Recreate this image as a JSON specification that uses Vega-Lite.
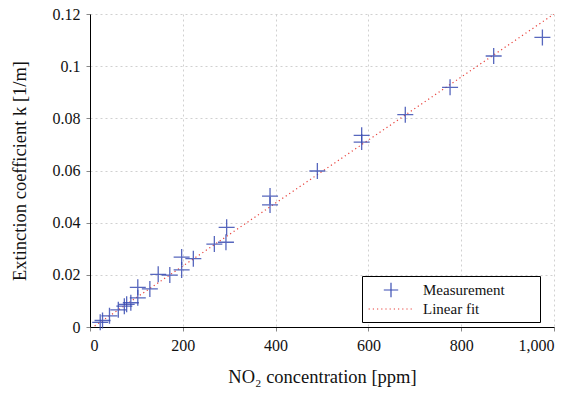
{
  "$schema": "https://vega.github.io/schema/vega-lite/v6.json",
  "width": 464,
  "height": 313,
  "autosize": {"type": "none"},
  "padding": {"left": 90, "top": 14, "right": 27, "bottom": 67},
  "background": "white",
  "config": {
    "view": {"stroke": null},
    "font": "Liberation Serif",
    "axis": {
      "labelFont": "Liberation Serif",
      "titleFont": "Liberation Serif",
      "labelFontSize": 16,
      "titleFontSize": 18.5,
      "labelColor": "#111",
      "titleColor": "#111",
      "titleFontWeight": "normal",
      "domainColor": "#000",
      "domainWidth": 1,
      "tickColor": "#888",
      "tickSize": 4,
      "gridColor": "#d0d0d0",
      "gridDash": [2, 3],
      "gridWidth": 1
    }
  },
  "datasets": {
    "meas": [
      {"c": 22, "k": 0.0018, "series": "Measurement"},
      {"c": 27, "k": 0.0025, "series": "Measurement"},
      {"c": 42, "k": 0.0043, "series": "Measurement"},
      {"c": 61, "k": 0.0066, "series": "Measurement"},
      {"c": 74, "k": 0.0080, "series": "Measurement"},
      {"c": 79, "k": 0.0087, "series": "Measurement"},
      {"c": 88, "k": 0.0093, "series": "Measurement"},
      {"c": 103, "k": 0.0112, "series": "Measurement"},
      {"c": 103, "k": 0.0152, "series": "Measurement"},
      {"c": 129, "k": 0.0146, "series": "Measurement"},
      {"c": 147, "k": 0.0202, "series": "Measurement"},
      {"c": 172, "k": 0.0199, "series": "Measurement"},
      {"c": 197.5, "k": 0.0268, "series": "Measurement"},
      {"c": 197.5, "k": 0.0219, "series": "Measurement"},
      {"c": 222.7, "k": 0.0262, "series": "Measurement"},
      {"c": 268, "k": 0.0318, "series": "Measurement"},
      {"c": 293, "k": 0.0325, "series": "Measurement"},
      {"c": 294.5, "k": 0.0382, "series": "Measurement"},
      {"c": 388, "k": 0.0502, "series": "Measurement"},
      {"c": 388, "k": 0.0468, "series": "Measurement"},
      {"c": 490, "k": 0.0598, "series": "Measurement"},
      {"c": 585.5, "k": 0.0735, "series": "Measurement"},
      {"c": 585.5, "k": 0.0709, "series": "Measurement"},
      {"c": 679.5, "k": 0.0814, "series": "Measurement"},
      {"c": 776, "k": 0.0919, "series": "Measurement"},
      {"c": 870, "k": 0.1039, "series": "Measurement"},
      {"c": 975, "k": 0.1110, "series": "Measurement"}
    ],
    "fit": [
      {"c": 10, "k": 0.0004, "series": "Linear fit"},
      {"c": 1000, "k": 0.1200, "series": "Linear fit"}
    ]
  },
  "encoding": {
    "x": {"type": "quantitative",
      "scale": {"domain": [0, 1000], "nice": false},
      "axis": {"values": [0, 200, 400, 600, 800, 1000], "format": ",d", "title": "NO₂ concentration [ppm]", "labelPadding": 6, "titlePadding": 14}},
    "y": {"type": "quantitative",
      "scale": {"domain": [0, 0.12], "nice": false},
      "axis": {"values": [0, 0.02, 0.04, 0.06, 0.08, 0.1, 0.12], "format": ".2~f", "title": "Extinction coefficient k [1/m]", "labelPadding": 6, "titlePadding": 23}}
  },
  "layer": [
    {
      "data": {"name": "fit"},
      "mark": {"type": "line", "strokeDash": [1.2, 3], "strokeWidth": 1.2, "clip": true},
      "encoding": {
        "x": {"field": "c", "type": "quantitative"},
        "y": {"field": "k", "type": "quantitative"},
        "color": {"field": "series", "type": "nominal",
          "scale": {"domain": ["Measurement", "Linear fit"], "range": ["#3a4db3", "#e8403a"]},
          "legend": {
            "title": null,
            "orient": "none",
            "legendX": 272,
            "legendY": 262,
            "direction": "vertical",
            "strokeColor": "#000",
            "fillColor": "white",
            "padding": 5,
            "labelFont": "Liberation Serif",
            "labelFontSize": 15,
            "labelColor": "#111",
            "symbolSize": 256,
            "symbolStrokeWidth": 1.2,
            "symbolOffset": 15,
            "labelOffset": 23,
            "rowPadding": 0,
            "offset": 0,
            "labelLimit": 250,
            "labelExpr": "datum.label + '\u00a0\u00a0\u00a0\u00a0\u00a0\u00a0\u00a0\u00a0\u2060'",
            "encode": {
              "symbols": {
                "update": {
                  "shape": {"signal": "datum.value === 'Measurement' ? 'M-0.9,0L0.9,0M0,-0.9L0,0.9' : 'M-2.8,0L2.8,0'"},
                  "strokeDash": {"signal": "datum.value === 'Linear fit' ? [1.2, 3] : [1, 0]"},
                  "fill": {"value": "transparent"},
                  "stroke": {"signal": "datum.value === 'Measurement' ? '#3a4db3' : '#e8403a'"},
                  "opacity": {"value": 1}
                }
              }
            }
          }}
      }
    },
    {
      "data": {"name": "meas"},
      "mark": {"type": "point", "shape": "M-1,0L1,0M0,-1L0,1", "filled": false, "size": 256, "strokeWidth": 1.3, "opacity": 0.85},
      "encoding": {
        "x": {"field": "c", "type": "quantitative"},
        "y": {"field": "k", "type": "quantitative"},
        "color": {"field": "series", "type": "nominal"}
      }
    },
    {
      "mark": {"type": "point", "shape": "M-1,1L0,-1L1,1", "filled": false, "size": 12, "color": "#000", "strokeWidth": 1, "clip": false},
      "encoding": {"x": {"datum": 0}, "y": {"datum": 0.12}}
    },
    {
      "mark": {"type": "point", "shape": "M-1,-1L1,0L-1,1", "filled": false, "size": 12, "color": "#000", "strokeWidth": 1, "clip": false},
      "encoding": {"x": {"datum": 1000}, "y": {"datum": 0}}
    }
  ]
}
